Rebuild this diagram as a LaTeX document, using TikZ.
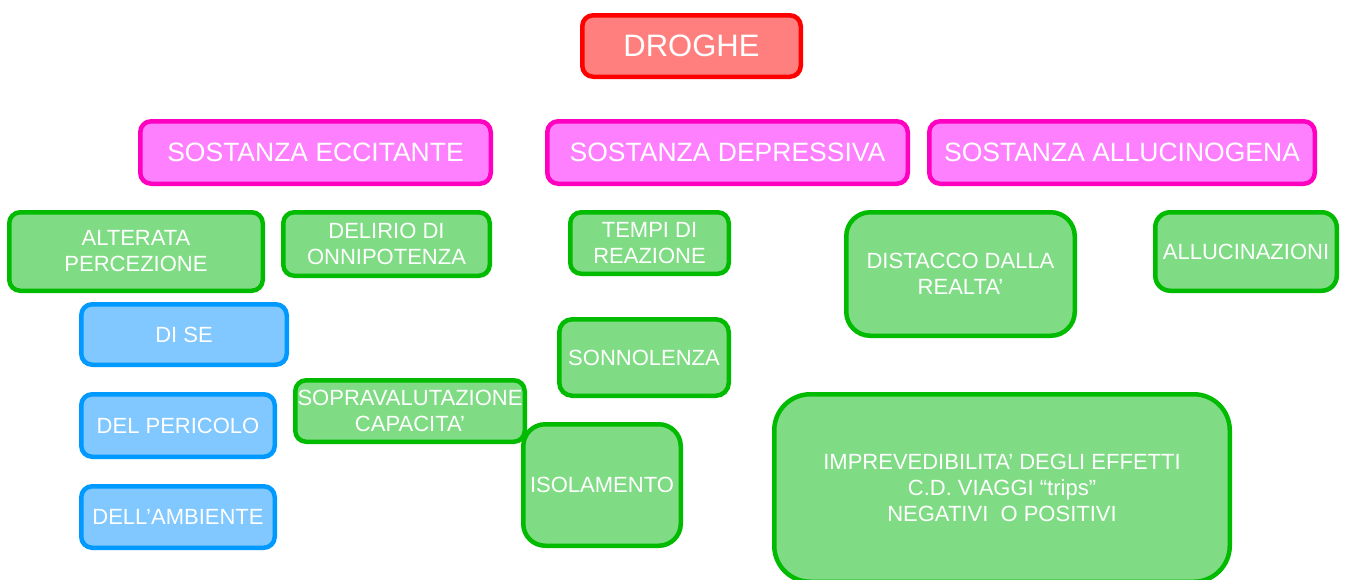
\documentclass[tikz,border=0pt]{standalone}
\usepackage{fontspec}
\setmainfont{Liberation Sans}
\definecolor{gfill}{HTML}{80DC84}
\definecolor{gline}{HTML}{00BB00}
\definecolor{pfill}{HTML}{FF80FF}
\definecolor{pline}{HTML}{FF00C0}
\definecolor{rfill}{HTML}{FF7F7F}
\definecolor{rline}{HTML}{FF0000}
\definecolor{bfill}{HTML}{80C8FF}
\definecolor{bline}{HTML}{0099FF}
\tikzset{
  box/.style={draw, line width=4.5pt, rounded corners=11pt, inner sep=0pt, align=center, text=white},
  small/.style={font=\fontsize{22}{26}\selectfont},
  gbox/.style={box, small, fill=gfill, draw=gline},
  bbox/.style={box, small, fill=bfill, draw=bline},
  pbox/.style={box, fill=pfill, draw=pline, font=\fontsize{26.5}{30}\selectfont},
  rbox/.style={box, fill=rfill, draw=rline, font=\fontsize{31}{34}\selectfont},
}
\begin{document}
\begin{tikzpicture}[x=1pt, y=-1pt]
\useasboundingbox (0,0) rectangle (1348,579);
\node[rbox, minimum width=218.5pt, minimum height=61.5pt] (droghe) at (691.5,46) {DROGHE};
\node[pbox, minimum width=350.5pt, minimum height=62.5pt] (ecc) at (315.5,152.5) {SOSTANZA ECCITANTE};
\node[pbox, minimum width=360.5pt, minimum height=62.5pt] (dep) at (727.5,152.5) {SOSTANZA DEPRESSIVA};
\node[pbox, minimum width=385.5pt, minimum height=62.5pt] (all) at (1122,152.5) {SOSTANZA ALLUCINOGENA};

\node[gbox, minimum width=253.5pt, minimum height=78.5pt] (alt) at (136,251.5) {ALTERATA\\PERCEZIONE};
\node[gbox, minimum width=206.5pt, minimum height=63.5pt] (del) at (386.5,244) {DELIRIO DI\\ONNIPOTENZA};
\node[gbox, minimum width=158.5pt, minimum height=61.5pt] (tem) at (649.5,243) {TEMPI DI\\REAZIONE};
\node[gbox, rounded corners=24pt, minimum width=228.5pt, minimum height=123.5pt] (dis) at (960.5,274) {DISTACCO DALLA\\REALTA’};
\node[gbox, rounded corners=15pt, minimum width=181.5pt, minimum height=78.5pt] (alc) at (1246,251.5) {ALLUCINAZIONI};

\node[bbox, minimum width=205.5pt, minimum height=60.5pt] (dise) at (184,334.5) {DI SE};
\node[bbox, minimum width=193.5pt, minimum height=62.5pt] (per) at (178,425.5) {DEL PERICOLO};
\node[bbox, minimum width=193.5pt, minimum height=61.5pt] (amb) at (178,517) {DELL’AMBIENTE};

\node[gbox, rounded corners=13pt, minimum width=169.5pt, minimum height=76.5pt] (son) at (644,357.5) {SONNOLENZA};
\node[gbox, minimum width=229.5pt, minimum height=61.5pt] (sop) at (410,411) {SOPRAVALUTAZIONE\\CAPACITA’};
\node[gbox, rounded corners=22pt, minimum width=157.5pt, minimum height=121.5pt] (iso) at (602,485) {ISOLAMENTO};
\node[gbox, rounded corners=36pt, minimum width=455.5pt, minimum height=187.5pt] (imp) at (1002,488) {IMPREVEDIBILITA’ DEGLI EFFETTI\\C.D. VIAGGI “trips”\\NEGATIVI\ \ O POSITIVI};
\end{tikzpicture}
\end{document}
